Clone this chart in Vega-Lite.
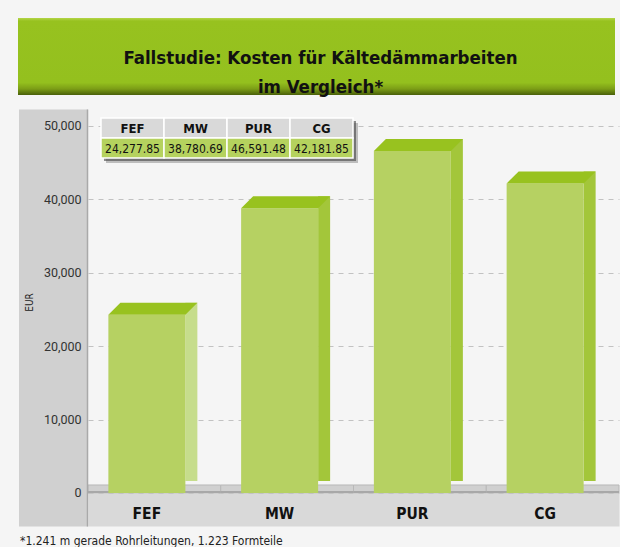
{
  "$schema": "https://vega.github.io/schema/vega-lite/v6.json",
  "background": "#f5f5f5",
  "padding": {"left": 18, "top": 18, "right": 0, "bottom": 0},
  "spacing": 13,
  "config": {"view": {"stroke": null}},
  "datasets": {
    "costs": [
      {"cat": "FEF", "value": 24277.85},
      {"cat": "MW", "value": 38780.69},
      {"cat": "PUR", "value": 46591.48},
      {"cat": "CG", "value": 42181.85}
    ],
    "heading": [{"t": "Fallstudie: Kosten für Kältedämmarbeiten\nim Vergleich*"}]
  },
  "vconcat": [
    {
      "width": 597,
      "height": 77,
      "view": {
        "stroke": null,
        "fill": {"gradient": "linear", "x1": 0, "y1": 0, "x2": 0, "y2": 1,
          "stops": [
            {"offset": 0, "color": "#b4d548"},
            {"offset": 0.04, "color": "#97c21f"},
            {"offset": 0.84, "color": "#94c01e"},
            {"offset": 0.92, "color": "#7c9e16"},
            {"offset": 1, "color": "#4a600a"}
          ]}
      },
      "data": {"name": "heading"},
      "mark": {"type": "text", "lineBreak": "\n", "font": "DejaVu Sans Condensed, Roboto, sans-serif", "fontSize": 18.5, "fontWeight": "bold", "lineHeight": 29, "color": "#111111", "baseline": "middle", "align": "center", "dx": 4, "dy": 1},
      "encoding": {"text": {"field": "t"}}
    },
    {
      "width": 601,
      "height": 417,
      "data": {"name": "costs"},
      "title": {"text": "*1.241 m gerade Rohrleitungen, 1.223 Formteile", "orient": "bottom", "anchor": "start", "frame": "bounds", "font": "DejaVu Sans Condensed, Roboto, sans-serif", "fontSize": 12, "fontWeight": "normal", "color": "#222222", "offset": 10, "baseline": "top", "dx": 2},
      "resolve": {"scale": {"x": "independent", "y": "independent"}},
      "layer": [
        {
          "resolve": {"axis": {"x": "independent", "y": "independent"}},
          "layer": [
            {
              "encoding": {
                "x": {"field": "cat", "type": "nominal", "sort": null,
                  "scale": {"type": "band", "range": [70, 601], "paddingInner": 0, "paddingOuter": 0},
                  "axis": {"orient": "bottom", "offset": -16.5, "domainWidth": 33, "domainColor": "#d9d9d9", "domainCap": "butt", "ticks": false, "labels": false, "title": null, "grid": false, "zindex": 0}},
                "y": {"datum": 0, "type": "quantitative",
                  "scale": {"domain": [-4496, 52316], "nice": false, "zero": false},
                  "axis": {"orient": "left", "values": [0, 10000, 20000, 30000, 40000, 50000], "offset": -35, "domainWidth": 69, "domainColor": "#d0d0d0", "domainCap": "butt", "ticks": false, "labels": false, "title": null,
                    "grid": true, "gridColor": "#c2c2c2", "gridDash": [5, 5], "gridWidth": 1, "zindex": 0}},
                "y2": {"datum": 0}
              },
              "layer": [
                {"mark": {"type": "bar", "width": {"band": 1}, "y2Offset": -8, "fill": "#d0d0d0", "stroke": "#b8b8b8", "strokeWidth": 1}},
                {"mark": {"type": "bar", "width": {"band": 1}, "y2Offset": -2, "fill": "#a8a8a8"}}
              ]
            },
            {
              "encoding": {
                "x": {"field": "cat", "type": "nominal", "sort": null,
                  "axis": {"orient": "bottom", "offset": -16.5, "domain": false, "ticks": false, "tickSize": 0, "labelPadding": 4, "labelBaseline": "middle", "labelOffset": -7.5, "labelFont": "DejaVu Sans Condensed, Roboto, sans-serif", "labelFontSize": 15.5, "labelFontWeight": "bold", "labelColor": "#111111", "labelAngle": 0, "title": null, "grid": false, "zindex": 1}},
                "y": {"field": "value", "type": "quantitative",
                  "axis": {"orient": "left", "values": [0, 10000, 20000, 30000, 40000, 50000], "format": ",d",
                    "title": "EUR", "titleFont": "DejaVu Sans Condensed, Roboto, sans-serif", "titleFontSize": 10, "titleFontWeight": "normal", "titleColor": "#222222", "titleX": -58, "titleY": 193, "titleAngle": -90, "titleBaseline": "middle", "titleAlign": "center",
                    "offset": -69, "domain": true, "domainColor": "#a9a9a9", "domainWidth": 1.5, "domainCap": "butt", "ticks": false, "tickSize": 0, "labelPadding": 6, "labelAlign": "right", "labelBaseline": "middle", "labelFont": "Roboto", "labelFontSize": 12.5, "labelColor": "#333333",
                    "grid": false, "zindex": 1}}
              },
              "layer": [
                {
                  "mark": {"type": "bar", "width": 12, "xOffset": 37, "yOffset": -12, "y2Offset": -8},
                  "encoding": {"color": {"condition": {"test": "datum.cat === 'FEF'", "value": "#c6dd8c"}, "value": "#a3c63a"}}
                },
                {"mark": {"type": "bar", "width": {"band": 0.58}, "xOffset": -7.5, "fill": "#b6d162"}},
                {"mark": {"type": "point", "shape": "M -46 0 L -34 -12 L 43 -12 L 31 0 Z", "size": 4, "filled": true, "opacity": 1, "fill": "#98c21f", "strokeWidth": 0}}
              ]
            }
          ]
        },
        {
          "encoding": {
            "x": {"field": "cat", "type": "nominal", "sort": null,
              "scale": {"type": "band", "range": [83, 335], "paddingInner": 0, "paddingOuter": 0},
              "axis": null}
          },
          "layer": [
            {
              "mark": {"type": "rect", "xOffset": 5, "yOffset": 5, "fill": "#555555", "opacity": 0.35},
              "encoding": {"y": {"datum": "h", "type": "nominal", "scale": {"type": "band", "domain": ["h", "v"], "range": [9, 49], "paddingInner": 0, "paddingOuter": 0}, "axis": null}}
            },
            {
              "mark": {"type": "rect", "xOffset": 5, "yOffset": 5, "fill": "#555555", "opacity": 0.35},
              "encoding": {"y": {"datum": "v", "type": "nominal", "scale": {"type": "band", "domain": ["h", "v"], "range": [9, 49], "paddingInner": 0, "paddingOuter": 0}, "axis": null}}
            },
            {
              "mark": {"type": "rect", "xOffset": 3, "yOffset": 3, "fill": "#444444", "opacity": 0.6},
              "encoding": {"y": {"datum": "v", "type": "nominal", "scale": {"type": "band", "domain": ["h", "v"], "range": [9, 49], "paddingInner": 0, "paddingOuter": 0}, "axis": null}}
            },
            {
              "mark": {"type": "rect", "xOffset": 3, "yOffset": 3, "fill": "#444444", "opacity": 0.6},
              "encoding": {"y": {"datum": "h", "type": "nominal", "scale": {"type": "band", "domain": ["h", "v"], "range": [9, 49], "paddingInner": 0, "paddingOuter": 0}, "axis": null}}
            },
            {
              "mark": {"type": "rect", "fill": "#d9d9d9", "stroke": "#ffffff", "strokeWidth": 1.5},
              "encoding": {"y": {"datum": "h", "type": "nominal", "scale": {"type": "band", "domain": ["h", "v"], "range": [9, 49], "paddingInner": 0, "paddingOuter": 0}, "axis": null}}
            },
            {
              "mark": {"type": "rect", "fill": "#b5d25e", "stroke": "#ffffff", "strokeWidth": 1.5},
              "encoding": {"y": {"datum": "v", "type": "nominal", "scale": {"type": "band", "domain": ["h", "v"], "range": [9, 49], "paddingInner": 0, "paddingOuter": 0}, "axis": null}}
            },
            {
              "mark": {"type": "text", "font": "DejaVu Sans Condensed, Roboto, sans-serif", "fontSize": 13, "fontWeight": "bold", "color": "#111111", "baseline": "middle", "dy": 1},
              "encoding": {
                "y": {"datum": "h", "type": "nominal", "scale": {"type": "band", "domain": ["h", "v"], "range": [9, 49], "paddingInner": 0, "paddingOuter": 0}, "axis": null},
                "text": {"field": "cat"}
              }
            },
            {
              "mark": {"type": "text", "font": "DejaVu Sans Condensed, Roboto, sans-serif", "fontSize": 12, "color": "#111111", "baseline": "middle", "dy": 1},
              "encoding": {
                "y": {"datum": "v", "type": "nominal", "scale": {"type": "band", "domain": ["h", "v"], "range": [9, 49], "paddingInner": 0, "paddingOuter": 0}, "axis": null},
                "text": {"field": "value", "format": ",.2f"}
              }
            }
          ]
        }
      ]
    }
  ]
}
